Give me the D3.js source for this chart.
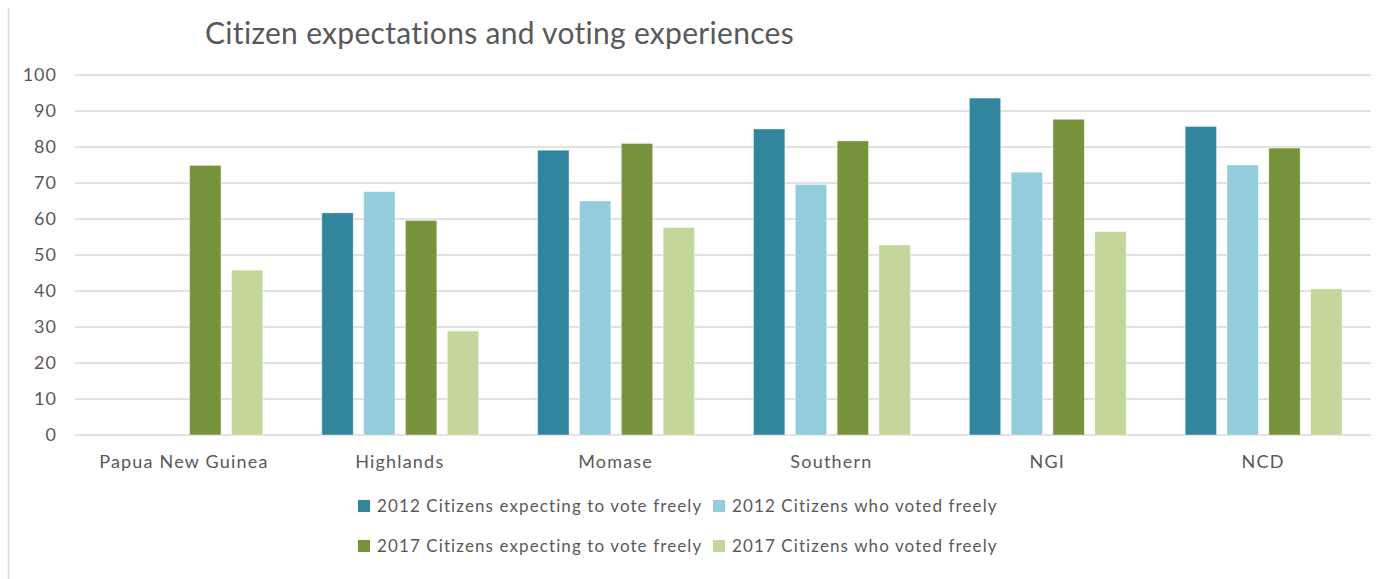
<!DOCTYPE html>
<head>
  <meta charset="utf-8">
  <script src="https://cdn.jsdelivr.net/npm/d3@7"></script>
  <style>
    body {
      margin: 0;
      background: #fff;
      font-family: Lato, "Open Sans", Arial, sans-serif;
    }
    .tick text {
      fill: #595959;
      font-family: Lato, "Open Sans", Arial, sans-serif;
    }
  </style>
</head>

<body>
  <div id="chart"></div>
  <script>

  var categories = ["Papua New Guinea", "Highlands", "Momase", "Southern", "NGI", "NCD"];
  var seriesNames = [
    "2012 Citizens expecting to vote freely",
    "2012 Citizens who voted freely",
    "2017 Citizens expecting to vote freely",
    "2017 Citizens who voted freely"
  ];
  var expect2012 = [null, 61.7, 79.1, 85.0, 93.6, 85.7];
  var voted2012  = [null, 67.6, 65.0, 69.6, 73.0, 75.0];
  var expect2017 = [74.9, 59.6, 81.0, 81.7, 87.7, 79.7];
  var voted2017  = [45.8, 28.9, 57.6, 52.8, 56.5, 40.6];
  var yTicks = [0, 10, 20, 30, 40, 50, 60, 70, 80, 90, 100];

  var colors = ["#31859C", "#93CDDD", "#77933C", "#C3D69B"];
  var seriesValues = [expect2012, voted2012, expect2017, voted2017];

  var width = 1384, height = 579;
  var margin = {top: 75, right: 13, bottom: 144, left: 76};

  var svg = d3.select("#chart").append("svg")
      .attr("width", width)
      .attr("height", height);

  // left border of the chart area
  svg.append("line")
      .attr("x1", 8.5).attr("x2", 8.5)
      .attr("y1", 8).attr("y2", height)
      .style("stroke", "#d9d9d9")
      .style("stroke-width", 1.5);

  svg.append("text")
      .attr("x", 205)
      .attr("y", 44)
      .style("font-size", "30px")
      .style("letter-spacing", "0.3px")
      .style("fill", "#595959")
      .text("Citizen expectations and voting experiences");

  var x0 = d3.scaleBand()
      .domain(categories)
      .range([margin.left, width - margin.right])
      .padding(0);

  var x1 = d3.scaleBand()
      .domain(d3.range(seriesNames.length))
      .range([30, x0.bandwidth() - 29])
      .paddingInner(0.25);

  var y = d3.scaleLinear()
      .domain([0, 100])
      .range([height - margin.bottom, margin.top]);

  // gridlines
  svg.append("g")
      .selectAll("line")
      .data(yTicks)
    .enter().append("line")
      .attr("x1", margin.left - 1)
      .attr("x2", width - margin.right)
      .attr("y1", function(d) { return y(d); })
      .attr("y2", function(d) { return y(d); })
      .style("stroke", "#d9d9d9")
      .style("stroke-width", 1.5);

  var yAxis = svg.append("g")
      .attr("transform", "translate(" + (margin.left - 10) + ",0)")
      .call(d3.axisLeft(y).tickValues(yTicks).tickSize(0).tickPadding(9));
  yAxis.select(".domain").remove();
  yAxis.selectAll("text")
      .style("font-size", "18px")
      .style("letter-spacing", "1px");

  var xAxis = svg.append("g")
      .attr("transform", "translate(0," + y(0) + ")")
      .call(d3.axisBottom(x0).tickSize(0).tickPadding(20));
  xAxis.select(".domain").remove();
  xAxis.selectAll("text")
      .style("font-size", "18px")
      .style("letter-spacing", "1.2px");

  var rows = [];
  categories.forEach(function(c, i) {
    seriesValues.forEach(function(vals, s) {
      if (vals[i] != null) rows.push({cat: c, s: s, v: vals[i]});
    });
  });

  svg.append("g")
      .selectAll("rect")
      .data(rows)
    .enter().append("rect")
      .attr("x", function(d) { return x0(d.cat) + x1(d.s); })
      .attr("y", function(d) { return y(d.v); })
      .attr("width", x1.bandwidth())
      .attr("height", function(d) { return y(0) - y(d.v); })
      .style("fill", function(d) { return colors[d.s]; })
      .style("stroke", "#fff")
      .style("stroke-opacity", 0.5)
      .style("stroke-width", 0.8);

  // legend, two rows of two
  var legendPos = [[358, 512], [713, 512], [358, 552], [713, 552]];
  var legend = svg.append("g")
      .selectAll("g")
      .data(seriesNames)
    .enter().append("g")
      .attr("transform", function(d, i) { return "translate(" + legendPos[i][0] + "," + legendPos[i][1] + ")"; });

  legend.append("rect")
      .attr("x", 0).attr("y", -12)
      .attr("width", 12).attr("height", 12)
      .style("fill", function(d, i) { return colors[i]; });

  legend.append("text")
      .attr("x", 19)
      .attr("y", 0)
      .style("font-size", "17px")
      .style("letter-spacing", "1.1px")
      .style("fill", "#595959")
      .text(function(d) { return d; });

  </script>
</body>
